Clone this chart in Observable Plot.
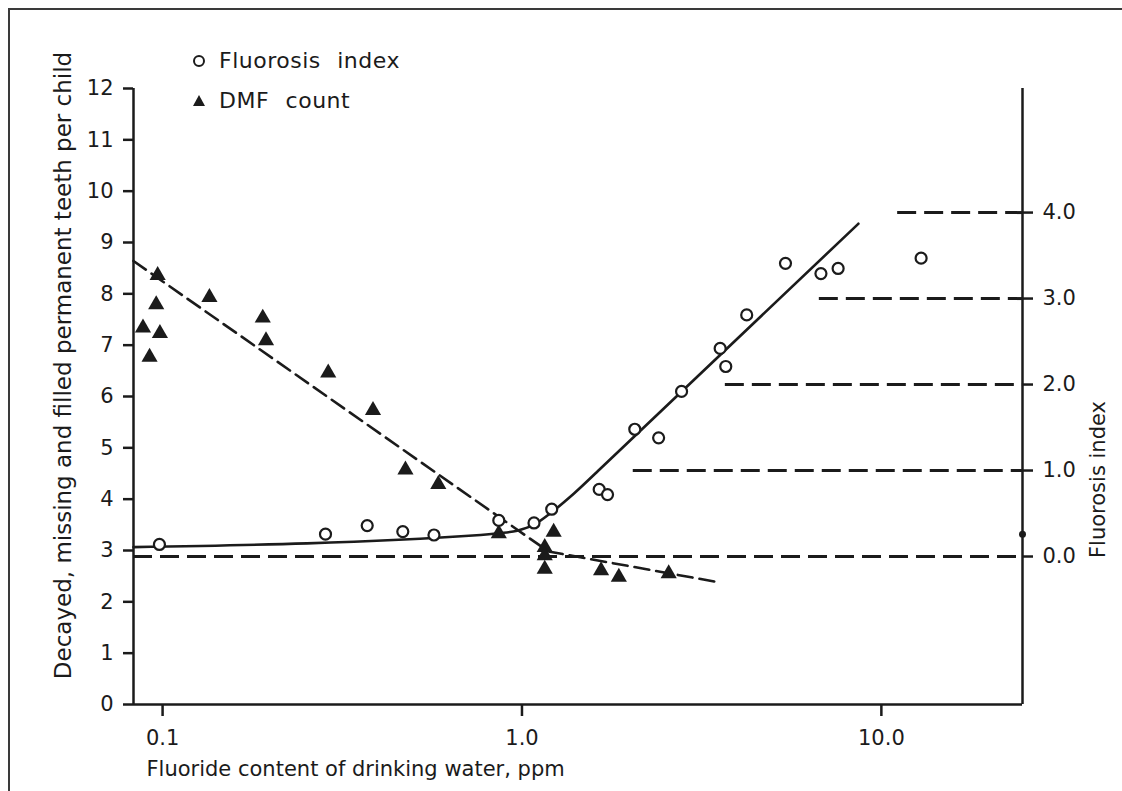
<!DOCTYPE html>
<html>
<head>
<meta charset="utf-8">
<script src="https://cdn.jsdelivr.net/npm/d3@7"></script>
<script src="https://cdn.jsdelivr.net/npm/@observablehq/plot@0.6"></script>
<style>
  html, body { margin: 0; padding: 0; background: #fff; overflow: hidden; }
  #wrap { position: relative; width: 1122px; height: 791px; overflow: hidden; background: #fff; }
  #border { position: absolute; left: 8px; top: 8px; width: 1300px; height: 1000px;
            border-left: 2px solid #3a3a3a; border-top: 2px solid #3a3a3a; }
  #legend { position: absolute; left: 189px; top: 41px; font-family: "DejaVu Sans", sans-serif;
            font-size: 22px; color: #1b1b1b; line-height: 40px; letter-spacing: 0.5px; word-spacing: 9px; }
  #legend div { display: flex; align-items: center; }
  #legend svg { margin-right: 10px; }
  #chart { position: absolute; left: 0; top: 0; }
</style>
</head>
<body>
<div id="wrap">
  <div id="border"></div>
  <div id="chart"></div>
  <div id="legend">
    <div><svg width="20" height="20"><circle cx="10" cy="10" r="5" fill="none" stroke="#1b1b1b" stroke-width="2"/></svg><span>Fluorosis index</span></div>
    <div><svg width="20" height="20"><path d="M10,4 L16,15 L4,15 Z" fill="#1b1b1b"/></svg><span>DMF count</span></div>
  </div>
</div>
<script>
// ---- Data ----
// Fluorosis index (open circles), right axis
const fluorosisPpm   = [0.098, 0.284, 0.371, 0.466, 0.569, 0.862, 1.08, 1.21, 1.64, 1.73, 2.06, 2.40, 2.78, 3.56, 3.69, 4.22, 5.41, 6.79, 7.58, 12.9];
const fluorosisIndex = [0.14, 0.26, 0.36, 0.29, 0.25, 0.42, 0.39, 0.55, 0.78, 0.72, 1.48, 1.38, 1.92, 2.42, 2.21, 2.81, 3.41, 3.29, 3.35, 3.47];
// DMF count (filled triangles), left axis
const dmfPpm   = [0.0882, 0.092, 0.0969, 0.096, 0.0983, 0.135, 0.190, 0.194, 0.289, 0.385, 0.474, 0.585, 0.862, 1.157, 1.157, 1.157, 1.225, 1.66, 1.86, 2.56];
const dmfCount = [7.34, 6.77, 8.36, 7.79, 7.23, 7.93, 7.53, 7.09, 6.46, 5.73, 4.57, 4.29, 3.33, 3.06, 2.90, 2.64, 3.36, 2.61, 2.48, 2.55];
// Fitted lines
const fluorosisFitPpm   = [0.083, 0.767, 0.86, 0.97, 1.079, 1.213, 1.393, 1.652, 8.63];
const fluorosisFitIndex = [0.109, 0.25, 0.27, 0.30, 0.37, 0.52, 0.73, 1.02, 3.87];
const dmfFitPpm   = [0.083, 1.185, 3.53];
const dmfFitCount = [8.64, 2.98, 2.38];
// Fluorosis reference levels (dashed horizontals) and where each starts
const refLevels = [0, 1, 2, 3, 4];
const refStartPpm = [0.083, 2.04, 3.68, 6.72, 11.1];
// Point on the right-hand axis
const edgePpm = [24.7];
const edgeIndex = [0.26];
// Axes
const xDomain = [0.083, 24.7];
const yDomain = [0, 12];
const xTicks = [0.1, 1, 10];
const dmfTicks = [0, 1, 2, 3, 4, 5, 6, 7, 8, 9, 10, 11, 12];
const fluorosisTicks = [0, 1, 2, 3, 4];
// Right axis alignment: fluorosis 0 sits at DMF 2.883; one fluorosis unit = 1.675 DMF units
const fluoroZero = 2.883, fluoroUnit = 1.675;
const toDmf = f => fluoroZero + fluoroUnit * f;
const fromDmf = d => (d - fluoroZero) / fluoroUnit;

const ink = "#1b1b1b";
const circles = fluorosisPpm.map((p, i) => ({p, v: toDmf(fluorosisIndex[i])}));
const triangles = dmfPpm.map((p, i) => ({p, v: dmfCount[i]}));
const fFit = fluorosisFitPpm.map((p, i) => ({p, v: toDmf(fluorosisFitIndex[i])}));
const dFit = dmfFitPpm.map((p, i) => ({p, v: dmfFitCount[i]}));
const refs = refLevels.map((f, i) => ({x1: refStartPpm[i], x2: xDomain[1], v: toDmf(f)}));
const edge = edgePpm.map((p, i) => ({p, v: toDmf(edgeIndex[i])}));

const chart = Plot.plot({
  width: 1122, height: 791,
  marginLeft: 133, marginRight: 100, marginTop: 88, marginBottom: 87,
  style: {fontFamily: "DejaVu Sans, sans-serif", fontSize: "21px", color: ink, background: "transparent", overflow: "visible"},
  x: {type: "log", domain: xDomain},
  y: {domain: yDomain},
  marks: [
    // axis lines
    Plot.ruleY([yDomain[0]], {stroke: ink, strokeWidth: 2.5}),
    Plot.ruleX([xDomain[0]], {stroke: ink, strokeWidth: 2.5}),
    Plot.ruleX([xDomain[1]], {stroke: ink, strokeWidth: 2.5}),
    Plot.axisX({ticks: xTicks, tickFormat: d => d.toFixed(1), tickSize: 12, tickPadding: 14, label: null, stroke: ink, strokeWidth: 2.5}),
    Plot.axisY({ticks: dmfTicks, tickFormat: d => String(d), tickSize: 10, tickPadding: 10, label: null, stroke: ink, strokeWidth: 2.5}),
    Plot.axisY({anchor: "right", ticks: fluorosisTicks.map(toDmf), tickFormat: d => fromDmf(d).toFixed(1), tickSize: 10, tickPadding: 10, label: null, stroke: ink, strokeWidth: 2.5}),
    // dashed fluorosis reference lines
    Plot.ruleY(refs, {y: "v", x1: "x1", x2: "x2", stroke: ink, strokeWidth: 3, strokeDasharray: "19,8"}),
    // fitted lines
    Plot.line(dFit, {x: "p", y: "v", stroke: ink, strokeWidth: 2.6, strokeDasharray: "15,7"}),
    Plot.line(fFit, {x: "p", y: "v", stroke: ink, strokeWidth: 2.6, curve: "monotone-x"}),
    // data
    Plot.dot(triangles, {x: "p", y: "v", symbol: "triangle", r: 6, fill: ink, stroke: "none"}),
    Plot.dot(circles, {x: "p", y: "v", r: 5.5, fill: "white", stroke: ink, strokeWidth: 2.2}),
    Plot.dot(edge, {x: "p", y: "v", r: 3.5, fill: ink}),
    // axis titles
    Plot.text(["Fluoride content of drinking water, ppm"], {frameAnchor: "bottom-left", textAnchor: "start", dx: 13, dy: 71, fill: ink, fontSize: 21, ariaLabel: "xtitle"}),
    Plot.text(["Decayed, missing and filled permanent teeth per child"], {frameAnchor: "left", textAnchor: "middle", rotate: -90, dx: -70, dy: -31, fill: ink, fontSize: 23, ariaLabel: "ytitle"}),
    Plot.text(["Fluorosis index"], {frameAnchor: "right", textAnchor: "middle", rotate: -90, dx: 76, dy: 83, fill: ink, fontSize: 21, ariaLabel: "rtitle"})
  ]
});
document.getElementById("chart").appendChild(chart);
d3.select(chart).selectAll('g[aria-label="xtitle"] text, g[aria-label="rtitle"] text')
  .style("letter-spacing", "0.4px").style("word-spacing", "7px");
d3.select(chart).selectAll('g[aria-label="ytitle"] text')
  .style("letter-spacing", "0.6px").style("word-spacing", "10px");
</script>
</body>
</html>
